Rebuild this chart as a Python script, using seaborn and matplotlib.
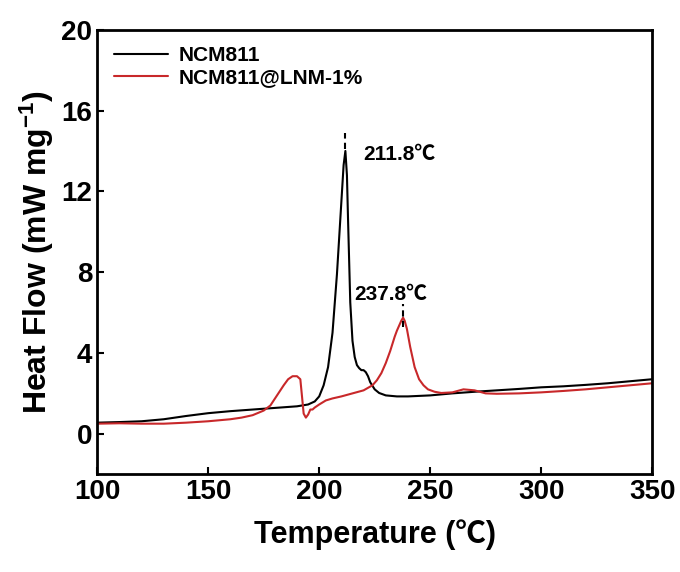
import pandas as pd
import matplotlib
matplotlib.use('Agg')
import matplotlib.pyplot as plt
import seaborn as sns

# DSC curves
temp_ncm = [100, 110, 120, 130, 140, 150, 160, 170, 180, 190, 195, 198, 200, 202, 204, 206, 208,
            210, 211, 211.8, 212.5, 213, 214, 215, 216, 217, 218, 219, 220, 221, 222, 223, 225,
            227, 230, 235, 240, 250, 260, 270, 280, 290, 300, 310, 320, 330, 340, 350]
flow_ncm = [0.55, 0.58, 0.62, 0.72, 0.88, 1.02, 1.12, 1.2, 1.28, 1.36, 1.45, 1.6, 1.85, 2.4, 3.3, 5.0, 7.9,
            11.5, 13.3, 14.0, 12.8, 10.6, 6.5, 4.6, 3.8, 3.4, 3.25, 3.15, 3.15, 3.05, 2.85, 2.55, 2.2,
            2.02, 1.9, 1.85, 1.85, 1.9, 2.0, 2.08, 2.15, 2.22, 2.3, 2.35, 2.42, 2.5, 2.6, 2.7]

temp_lnm = [100, 110, 120, 130, 140, 150, 160, 165, 170, 175, 178, 181, 184, 186, 188, 190, 191.5,
            192.3, 193, 194, 195, 196, 197, 198, 200, 203, 206, 210, 215, 220, 224, 226, 228, 230,
            232, 234, 235, 236, 237, 237.8, 238.5, 239.5, 241, 243, 245, 247, 249, 252, 255, 260,
            265, 270, 275, 280, 290, 300, 310, 320, 330, 340, 350]
flow_lnm = [0.5, 0.52, 0.5, 0.5, 0.55, 0.62, 0.72, 0.8, 0.92, 1.15, 1.4, 1.9, 2.4, 2.7, 2.85, 2.85, 2.7,
            1.8, 1.0, 0.8, 0.95, 1.2, 1.2, 1.3, 1.45, 1.65, 1.75, 1.85, 2.0, 2.15, 2.4, 2.65, 3.0, 3.5,
            4.1, 4.8, 5.1, 5.35, 5.6, 5.75, 5.6, 5.2, 4.3, 3.3, 2.7, 2.4, 2.2, 2.08, 2.02, 2.05,
            2.2, 2.15, 2.0, 1.98, 2.0, 2.05, 2.12, 2.2, 2.3, 2.4, 2.5]

labels = ['NCM811', 'NCM811@LNM-1%']
peaks = [(211.8, 14.0, '211.8℃'), (237.8, 5.75, '237.8℃')]

df = pd.concat([
    pd.DataFrame({'T': temp_ncm, 'HF': flow_ncm, 'sample': labels[0]}),
    pd.DataFrame({'T': temp_lnm, 'HF': flow_lnm, 'sample': labels[1]}),
])

sns.set_style('ticks')
plt.rcParams['font.family'] = ['Liberation Sans', 'Noto Sans CJK SC', 'DejaVu Sans']
plt.rcParams['font.weight'] = 'bold'
plt.rcParams['text.color'] = 'black'
plt.rcParams['axes.labelcolor'] = 'black'
plt.rcParams['xtick.color'] = 'black'
plt.rcParams['ytick.color'] = 'black'
plt.rcParams['axes.edgecolor'] = 'black'
plt.rcParams['mathtext.fontset'] = 'custom'
plt.rcParams['mathtext.rm'] = 'Liberation Sans:bold'
plt.rcParams['mathtext.it'] = 'Liberation Sans:bold'
plt.rcParams['mathtext.bf'] = 'Liberation Sans:bold'

fig, ax = plt.subplots(figsize=(6.8, 5.72), dpi=100)
fig.subplots_adjust(left=0.143, right=0.959, bottom=0.171, top=0.948)

sns.lineplot(data=df, x='T', y='HF', hue='sample', sort=False, estimator=None,
             palette={labels[0]: 'black', labels[1]: '#c8282a'}, linewidth=1.5, ax=ax)

# peak markers
ax.plot([211.8, 211.8], [14.1, 14.9], ls=(0, (3, 2)), color='black', lw=1.5)
ax.plot([237.8, 237.8], [5.3, 6.4], ls=(0, (3, 2)), color='black', lw=1.5)
ax.text(219.8, 13.8, peaks[0][2], fontsize=15, fontweight='bold', va='center')
ax.text(216.0, 6.9, peaks[1][2], fontsize=15, fontweight='bold', va='center')

ax.set_xlim(100, 350)
ax.set_ylim(-2, 20)
ax.set_xticks([100, 150, 200, 250, 300, 350])
ax.set_yticks([0, 4, 8, 12, 16, 20])
ax.tick_params(direction='in', length=5, width=1.5, labelsize=20)
for lab in ax.get_xticklabels() + ax.get_yticklabels():
    lab.set_fontweight('bold')
for s in ax.spines.values():
    s.set_linewidth(2)

ax.set_xlabel('Temperature (℃)', fontsize=22, fontweight='bold', labelpad=10)
ax.set_ylabel('Heat Flow (mW mg$^{-1}$)', fontsize=23, fontweight='bold', labelpad=4)

leg = ax.legend(loc='upper left', frameon=False, fontsize=15, handlelength=2.6,
                borderaxespad=0.4, handletextpad=0.5, labelspacing=0.15)
for t in leg.get_texts():
    t.set_fontweight('bold')

plt.savefig('out.png', dpi=100)
